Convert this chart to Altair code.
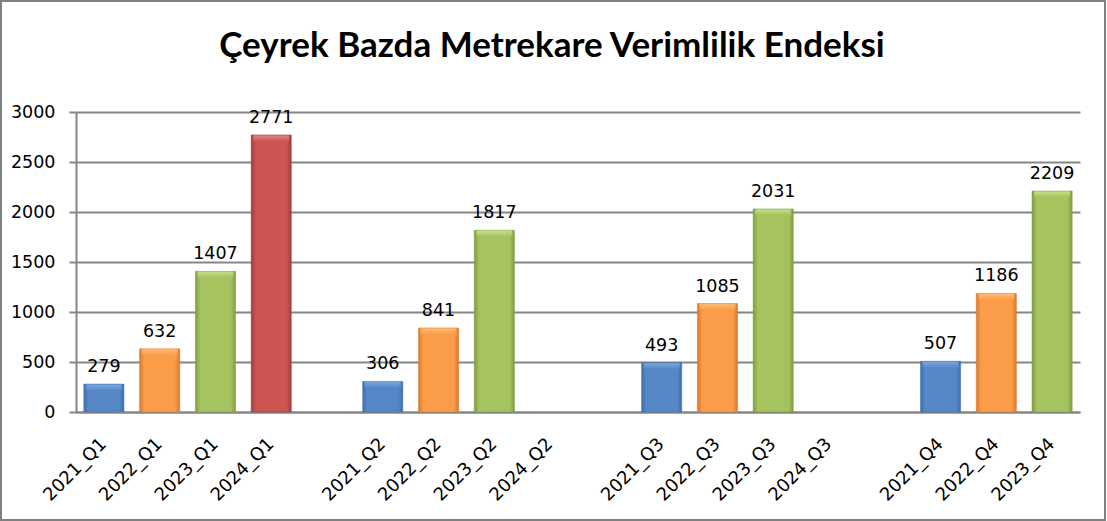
import altair as alt
import pandas as pd

TITLE = "Çeyrek Bazda Metrekare Verimlilik Endeksi"

categories = ["2021_Q1", "2022_Q1", "2023_Q1", "2024_Q1", "gap1",
              "2021_Q2", "2022_Q2", "2023_Q2", "2024_Q2", "gap2",
              "2021_Q3", "2022_Q3", "2023_Q3", "2024_Q3", "gap3",
              "2021_Q4", "2022_Q4", "2023_Q4"]
years = ["2021", "2022", "2023", "2024", "",
         "2021", "2022", "2023", "2024", "",
         "2021", "2022", "2023", "2024", "",
         "2021", "2022", "2023"]
values = [279, 632, 1407, 2771, None,
          306, 841, 1817, None, None,
          493, 1085, 2031, None, None,
          507, 1186, 2209]

df = pd.DataFrame({"cat": categories, "year": years, "value": values})

base_colors = {
    "2021": ("#3f6fae", "#5687c6", "#8ab4e8"),
    "2022": ("#d9782c", "#fb9c48", "#ffc98a"),
    "2023": ("#7f9c43", "#a5c35e", "#d3eb98"),
    "2024": ("#a13e3c", "#cb5553", "#ee9a98"),
}

FONT = "DejaVu Sans"

x_scale = alt.Scale(domain=categories, paddingInner=0.28, paddingOuter=0.14)
x_enc = alt.X("cat:N", scale=x_scale,
              axis=alt.Axis(title=None, labelAngle=-45, labelFont=FONT, labelFontSize=18,
                            labelColor="black", ticks=False, labelPadding=29,
                            labelAlign="right", labelBaseline="middle",
                            labelExpr="indexof(datum.label, 'gap') >= 0 ? '' : datum.label",
                            domainColor="#868686", domainWidth=2, grid=False))
y_enc = alt.Y("value:Q", scale=alt.Scale(domain=[0, 3000], nice=False),
              axis=alt.Axis(title=None, values=[0, 500, 1000, 1500, 2000, 2500, 3000],
                            format="d",
                            labelFont=FONT, labelFontSize=17.5, labelColor="black",
                            tickSize=7, tickColor="#868686", tickWidth=2, labelPadding=14,
                            gridColor="#868686", gridWidth=2, domainColor="#868686",
                            domainWidth=2))

layers = []
for yr, (dark, mid, light) in base_colors.items():
    sub = df[(df["year"] == yr) & df["value"].notna()]
    grad = alt.Gradient(gradient="linear", x1=0, x2=1, y1=0, y2=0,
                        stops=[alt.GradientStop(color=dark, offset=0),
                               alt.GradientStop(color=mid, offset=0.12),
                               alt.GradientStop(color=mid, offset=0.88),
                               alt.GradientStop(color=dark, offset=1)])
    bar = alt.Chart(sub).mark_bar(color=grad, stroke=dark, strokeWidth=0.5).encode(x=x_enc, y=y_enc)
    tgrad = alt.Gradient(gradient="linear", x1=0, x2=0, y1=0, y2=1,
                         stops=[alt.GradientStop(color=light, offset=0),
                                alt.GradientStop(color=mid, offset=1)])
    top = alt.Chart(sub).mark_tick(color=tgrad, thickness=6, size=36, yOffset=3.5).encode(
        x=alt.X("cat:N", scale=x_scale), y="value:Q")
    layers += [bar, top]

labels = alt.Chart(df[df["value"].notna()]).mark_text(
    font=FONT, fontSize=17.5, color="black", baseline="alphabetic", dy=-12
).encode(x=alt.X("cat:N", scale=x_scale), y="value:Q", text=alt.Text("value:Q", format="d"))

frame = alt.Chart(alt.Data(values=[{}])).mark_rect(
    filled=False, stroke="#808080", strokeWidth=2
).encode(x=alt.value(-75), x2=alt.value(1029), y=alt.value(-111), y2=alt.value(408))

title = alt.Chart(alt.Data(values=[{"t": TITLE}])).mark_text(
    font="Lato", fontSize=35, fontWeight="bold", color="black",
    align="center", baseline="alphabetic"
).encode(x=alt.value(476), y=alt.value(-55), text="t:N")

chart = alt.layer(*layers, labels, frame, title).properties(
    width=1004, height=300,
    padding={"left": 76, "top": 112, "right": 27, "bottom": 109},
    autosize=alt.AutoSizeParams(type="none"),
    background="white",
).configure_view(stroke=None)

chart.save("out.html", embed_options={"renderer": "svg", "actions": False})
